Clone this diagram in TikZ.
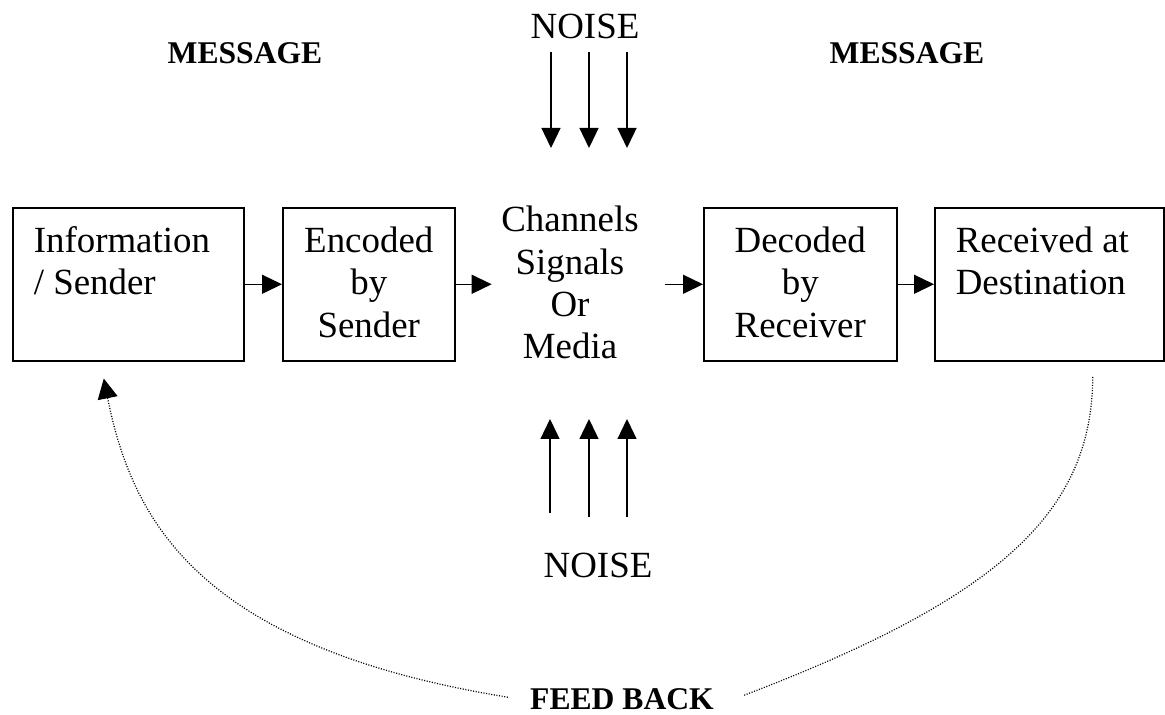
\documentclass[tikz,border=0pt]{standalone}
\usepackage{fontspec}
\setmainfont{Liberation Serif}
\usetikzlibrary{arrows.meta, calc}

\newcommand{\celltext}[3]{\parbox[t][3.06cm][t]{#1}{#2\rule{0pt}{0.9cm}#3}}

\begin{document}
\begin{tikzpicture}[x=0.02cm, y=-0.02cm,
  txt/.style={font=\fontsize{21pt}{24pt}\selectfont, inner sep=0pt},
  head/.style={font=\fontsize{18pt}{21pt}\selectfont\bfseries, inner sep=0pt},
  stage/.style={txt, draw, line width=0.9pt, inner xsep=0.42cm, inner ysep=0pt, anchor=north west},
  flow/.style={-{Triangle[length=0.4cm, width=0.38cm]}, line width=0.75pt},
  fback/.style={line width=0.7pt, dash pattern=on 0.6pt off 0.9pt}]
\useasboundingbox (0,0) rectangle (1165,715);
% stages of the chain
\node[stage] (info) at (12,207) {\celltext{3.78cm}{\raggedright}{Information\\/ Sender}};
\node[stage, inner xsep=0.2cm] (enc) at (282,207) {\celltext{3.04cm}{\centering}{Encoded\\by\\Sender}};
\node[txt, anchor=base] (chan) at (570,232) {\parbox[t]{3.12cm}{\centering Channels\\Signals\\Or\\Media}};
\node[stage, inner xsep=0.2cm] (dec) at (703,207) {\celltext{3.46cm}{\centering}{Decoded\\by\\Receiver}};
\node[stage] (dest) at (934,207) {\celltext{3.74cm}{\raggedright}{Received at\\Destination}};
\draw[flow] (info) -- (enc);
\draw[flow] (enc.east) -- (enc.east -| chan.west);
\draw[flow] ($(chan.east |- dec.west)+(17,0)$) -- (dec.west);
\draw[flow] (dec) -- (dest);
% noise from above and below
\node[txt, anchor=base] (noisetop) at (585,39) {NOISE};
\node[txt, anchor=base] (noisebot) at (598,577) {NOISE};
\foreach \x [count=\i] in {551,589,627} {
  \coordinate (nt\i) at (\x,52); \coordinate (nth\i) at (\x,148);
  \draw[flow] (nt\i) -- (nth\i);}
\foreach \x/\y [count=\i] in {550/513,589/517,627/517} {
  \coordinate (nb\i) at (\x,\y); \coordinate (nbh\i) at (\x,419);
  \draw[flow] (nb\i) -- (nbh\i);}
% labels
\node[head, anchor=base] (msgL) at (245,64) {MESSAGE};
\node[head, anchor=base] (msgR) at (907,64) {MESSAGE};
\node[head, anchor=base] (fb) at (622,709) {FEED BACK};
% feed back loop
\draw[fback, -{Triangle[length=0.4cm, width=0.4cm]}] ($(fb.west)+(-22,-1.5)$) .. controls (198,647) and (132,520) .. ($(info.south)+(-24.5,17)$);
\draw[fback] ($(fb.east)+(30,-3.5)$) .. controls (1002,597) and (1092,511) .. ($(dest.south)+(43.5,15)$);
\end{tikzpicture}
\end{document}
